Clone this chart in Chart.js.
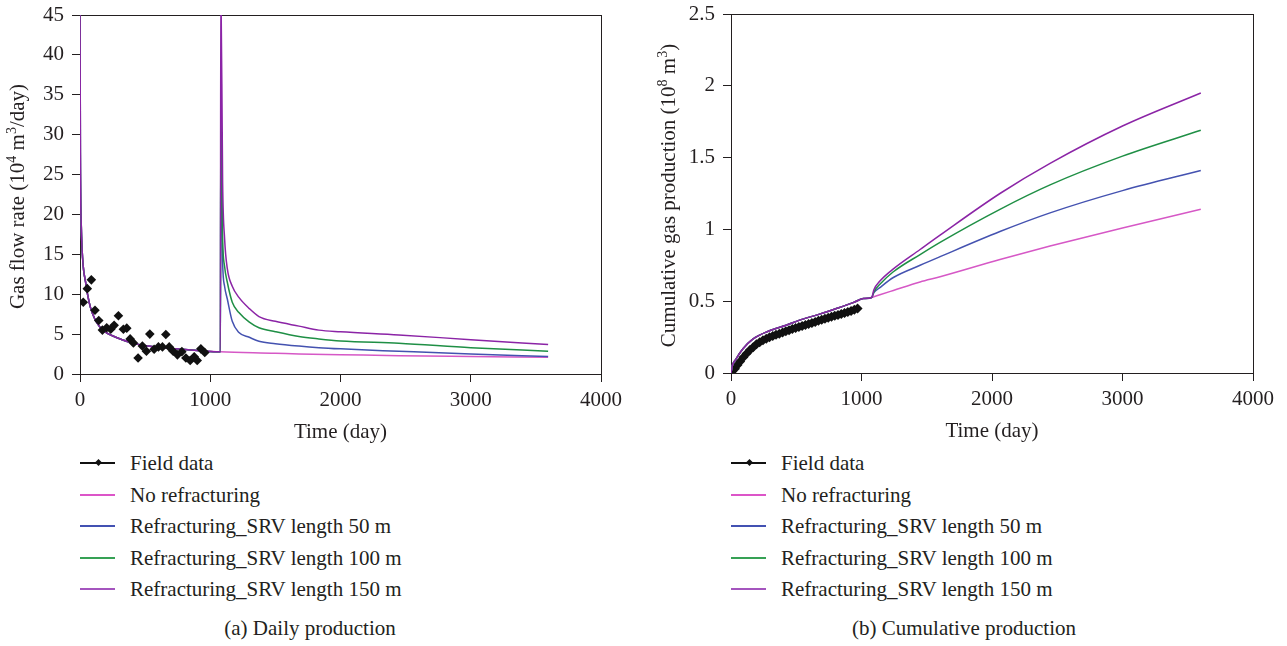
<!DOCTYPE html>
<html>
<head>
<meta charset="utf-8">
<script src="https://cdn.jsdelivr.net/npm/chart.js@4.4.0/dist/chart.umd.min.js"></script>
<style>
  body { margin: 0; background: #fff; width: 1287px; height: 646px; position: relative; overflow: hidden;
         font-family: "Liberation Serif", "DejaVu Serif", serif; color: #231f20; }
  canvas { position: absolute; top: 0; }
  #rate { left: 0; }
  #cum { left: 651px; }
  .legend { position: absolute; top: 448px; font-size: 21px; }
  .row { position: relative; height: 31.5px; white-space: nowrap; }
  .sample { position: absolute; left: 0; top: 14px; width: 35px; height: 2px; }
  .diamond { position: absolute; left: 16px; top: 12px; width: 5px; height: 5px; background: #111; transform: rotate(45deg); }
  .label { position: absolute; left: 50px; top: 0; line-height: 30px; }
  .caption { position: absolute; top: 613px; font-size: 21px; line-height: 30px; white-space: nowrap; transform: translateX(-50%); }
</style>
</head>
<body>
<canvas id="rate" width="643" height="445"></canvas>
<canvas id="cum" width="636" height="445"></canvas>
<div class="legend" id="legRate" style="left:80px"></div>
<div class="legend" id="legCum" style="left:731px"></div>
<div class="caption" style="left:310px">(a) Daily production</div>
<div class="caption" style="left:964px">(b) Cumulative production</div>

<script>
const ink = '#231f20';

const seriesNames = ['Field data', 'No refracturing', 'Refracturing_SRV length 50 m',
  'Refracturing_SRV length 100 m', 'Refracturing_SRV length 150 m'];
const lineColors = ['#111111', '#d658c6', '#4452b0', '#1f8f45', '#8b24a6'];
const keyColors = ['#111111', '#dc55c8', '#4351b2', '#36a155', '#a455be'];

// ---- daily gas rate, 10^4 m3/day ----
const fieldDays = [25, 56, 87, 115, 144, 172, 205, 236, 262, 295, 333, 359, 385, 410, 446, 479,
  510, 536, 569, 602, 633, 659, 685, 715, 748, 782, 813, 846, 877, 900, 928, 958];
const fieldRate = [9.0, 10.7, 11.8, 8.0, 6.7, 5.5, 5.8, 5.6, 6.1, 7.3, 5.6, 5.75, 4.4, 3.9, 2.0, 3.5,
  2.85, 5.0, 3.1, 3.4, 3.4, 4.95, 3.4, 2.85, 2.4, 2.8, 2.0, 1.7, 2.15, 1.7, 3.15, 2.7];

// before the refracturing job all model runs coincide
const earlyDays = [0, 3, 10, 20, 45, 70, 95, 130, 175, 275, 400, 480, 600, 735, 900, 1078];
const earlyRate = [50, 27.5, 18.5, 14.5, 11.3, 9.0, 7.6, 6.4, 5.5, 4.6, 3.9, 3.6, 3.35, 3.15, 2.95, 2.78];

const baseDays = [1078, 1500, 1681, 2000, 2448, 3000, 3594];
const baseRate = [2.78, 2.6, 2.5, 2.42, 2.3, 2.2, 2.1];

const refracDays = [1078, 1081, 1095, 1110, 1131, 1169, 1220, 1300, 1374, 1500, 1681, 1834, 2000, 2448, 3000, 3594];
const srv50Rate  = [2.78, 30, 14, 11, 9.4, 6.6, 5.2, 4.6, 4.1, 3.8, 3.5, 3.3, 3.15, 2.85, 2.5, 2.2];
const srv100Rate = [2.78, 33, 17, 13.5, 11.5, 9.0, 7.7, 6.5, 5.8, 5.3, 4.7, 4.4, 4.15, 3.85, 3.3, 2.85];
const srv150Rate = [2.78, 50, 24, 17, 13.2, 11, 9.6, 8.2, 7.2, 6.6, 6.0, 5.5, 5.3, 4.9, 4.3, 3.7];

// ---- cumulative gas, 10^8 m3 ----
const fieldCumDays = [10, 30, 50, 70, 95, 120, 145, 170, 195, 220, 245, 270, 295, 320, 345, 370, 395, 420,
  445, 470, 495, 520, 545, 570, 595, 620, 645, 670, 695, 720, 745, 770, 795, 820, 845, 870, 895, 920, 945, 970];
const fieldCum = [0.012, 0.03, 0.055, 0.08, 0.11, 0.135, 0.16, 0.18, 0.2, 0.215, 0.228, 0.239, 0.249,
  0.258, 0.266, 0.274, 0.282, 0.29, 0.298, 0.306, 0.313, 0.321, 0.328, 0.335, 0.342, 0.349, 0.356, 0.363,
  0.37, 0.377, 0.384, 0.391, 0.398, 0.404, 0.411, 0.418, 0.425, 0.432, 0.44, 0.45];

const cumEarlyDays = [0, 10, 38, 90, 167, 295, 423, 551, 679, 808, 936, 1013, 1078];
const cumEarly = [0, 0.05, 0.097, 0.167, 0.236, 0.294, 0.333, 0.375, 0.41, 0.449, 0.49, 0.518, 0.526];

const cumLateDays = [1078, 1095, 1141, 1244, 1449, 1602, 2061, 2445, 3000, 3600];
const baseCum   = [0.526, 0.531, 0.545, 0.575, 0.634, 0.67, 0.79, 0.884, 1.01, 1.14];
const srv50Cum  = [0.526, 0.56, 0.595, 0.665, 0.75, 0.81, 0.985, 1.115, 1.27, 1.41];
const srv100Cum = [0.526, 0.565, 0.618, 0.705, 0.825, 0.91, 1.14, 1.31, 1.51, 1.69];
const srv150Cum = [0.526, 0.58, 0.64, 0.725, 0.86, 0.96, 1.25, 1.46, 1.72, 1.95];

const xTicks = [0, 1000, 2000, 3000, 4000];
const rateTicks = [0, 5, 10, 15, 20, 25, 30, 35, 40, 45];
const cumTicks = [0, 0.5, 1, 1.5, 2, 2.5];

function pts(xs, ys) {
  return xs.map((x, i) => ({ x: x, y: ys[i] }));
}
function joined(xs1, ys1, xs2, ys2) {
  return pts(xs1, ys1).concat(pts(xs2, ys2).slice(1));
}

const serif = '"Liberation Serif", "DejaVu Serif", serif';

// box round the plot area, drawn under the curves
const frame = {
  id: 'frame',
  beforeDatasetsDraw(chart) {
    const { ctx, chartArea: a } = chart;
    ctx.save();
    ctx.strokeStyle = ink;
    ctx.lineWidth = 1;
    ctx.strokeRect(Math.round(a.left) + 0.5, Math.round(a.top) + 0.5,
      Math.round(a.right - a.left), Math.round(a.bottom - a.top));
    ctx.restore();
  }
};

// rotated y title with superscript exponents
const yTitle = {
  id: 'yTitle',
  afterDraw(chart, args, opts) {
    const { ctx, chartArea: a } = chart;
    const big = '21px ' + serif, small = '14px ' + serif;
    ctx.save();
    ctx.translate(opts.x, (a.top + a.bottom) / 2 + opts.dy);
    ctx.rotate(-Math.PI / 2);
    let w = 0;
    opts.parts.forEach(p => { ctx.font = p.sup ? small : big; w += ctx.measureText(p.text).width; });
    let x = -w / 2;
    ctx.fillStyle = ink;
    ctx.textBaseline = 'middle';
    opts.parts.forEach(p => {
      ctx.font = p.sup ? small : big;
      ctx.fillText(p.text, x, p.sup ? -6 : 0);
      x += ctx.measureText(p.text).width;
    });
    ctx.restore();
  }
};

function lineSet(label, color, data, order) {
  return {
    label: label, data: data, borderColor: color, borderWidth: 1.5,
    pointRadius: 0, fill: false, cubicInterpolationMode: 'monotone', order: order
  };
}

function options(yMax, yTicks, titleParts, pad) {
  return {
    responsive: false,
    animation: false,
    layout: { padding: pad },
    plugins: {
      legend: { display: false },
      tooltip: { enabled: false },
      yTitle: { parts: titleParts, x: 18, dy: 2 }
    },
    scales: {
      x: {
        type: 'linear', min: 0, max: 4000,
        afterBuildTicks: s => { s.ticks = xTicks.map(v => ({ value: v })); },
        afterFit: s => { s.height = 71; s.paddingLeft = 0; s.paddingRight = 0; },
        grid: { drawOnChartArea: false, tickLength: 8, color: ink, lineWidth: 1 },
        border: { display: false },
        ticks: { color: ink, font: { family: serif, size: 21 }, padding: 6, maxRotation: 0,
                 callback: v => String(v) },
        title: { display: true, text: 'Time (day)', color: ink, font: { family: serif, size: 21 },
                 padding: { top: 0, bottom: 0 } }
      },
      y: {
        type: 'linear', min: 0, max: yMax,
        afterBuildTicks: s => { s.ticks = yTicks.map(v => ({ value: v })); },
        afterFit: s => { s.width = 80; s.paddingTop = 0; s.paddingBottom = 0; },
        grid: { drawOnChartArea: false, tickLength: 8, color: ink, lineWidth: 1 },
        border: { display: false },
        ticks: { color: ink, font: { family: serif, size: 21 }, padding: 8, callback: v => String(v) }
      }
    }
  };
}

new Chart(document.getElementById('rate'), {
  type: 'line',
  data: {
    datasets: [
      { label: seriesNames[0], data: pts(fieldDays, fieldRate), showLine: false,
        pointStyle: 'rectRot', pointRadius: 4.8, backgroundColor: lineColors[0],
        borderColor: lineColors[0], borderWidth: 0, order: 0 },
      lineSet(seriesNames[1], lineColors[1], joined(earlyDays, earlyRate, baseDays, baseRate), 4),
      lineSet(seriesNames[2], lineColors[2], joined(earlyDays, earlyRate, refracDays, srv50Rate), 3),
      lineSet(seriesNames[3], lineColors[3], joined(earlyDays, earlyRate, refracDays, srv100Rate), 2),
      lineSet(seriesNames[4], lineColors[4], joined(earlyDays, earlyRate, refracDays, srv150Rate), 1)
    ]
  },
  options: options(45, rateTicks, [
    { text: 'Gas flow rate (10' }, { text: '4', sup: true }, { text: ' m' }, { text: '3', sup: true }, { text: '/day)' }
  ], { top: 15, right: 42, left: 0, bottom: 0 }),
  plugins: [frame, yTitle]
});

new Chart(document.getElementById('cum'), {
  type: 'line',
  data: {
    datasets: [
      { label: seriesNames[0], data: pts(fieldCumDays, fieldCum), showLine: false,
        pointStyle: 'rectRot', pointRadius: 5, backgroundColor: lineColors[0],
        borderColor: lineColors[0], borderWidth: 0, order: 5 },
      lineSet(seriesNames[1], lineColors[1], joined(cumEarlyDays, cumEarly, cumLateDays, baseCum), 4),
      lineSet(seriesNames[2], lineColors[2], joined(cumEarlyDays, cumEarly, cumLateDays, srv50Cum), 3),
      lineSet(seriesNames[3], lineColors[3], joined(cumEarlyDays, cumEarly, cumLateDays, srv100Cum), 2),
      lineSet(seriesNames[4], lineColors[4], joined(cumEarlyDays, cumEarly, cumLateDays, srv150Cum), 1)
    ]
  },
  options: options(2.5, cumTicks, [
    { text: 'Cumulative gas production (10' }, { text: '8', sup: true }, { text: ' m' }, { text: '3', sup: true }, { text: ')' }
  ], { top: 14, right: 34, left: 0, bottom: 1 }),
  plugins: [frame, yTitle]
});

// legend lists below each plot
function buildLegend(id) {
  const box = document.getElementById(id);
  seriesNames.forEach((name, i) => {
    const row = document.createElement('div');
    row.className = 'row';
    const line = document.createElement('div');
    line.className = 'sample';
    line.style.background = keyColors[i];
    if (i === 0) line.style.height = '1.5px';
    row.appendChild(line);
    if (i === 0) {
      const d = document.createElement('div');
      d.className = 'diamond';
      row.appendChild(d);
    }
    const t = document.createElement('div');
    t.className = 'label';
    t.textContent = name;
    row.appendChild(t);
    box.appendChild(row);
  });
}
buildLegend('legRate');
buildLegend('legCum');
</script>
</body>
</html>
